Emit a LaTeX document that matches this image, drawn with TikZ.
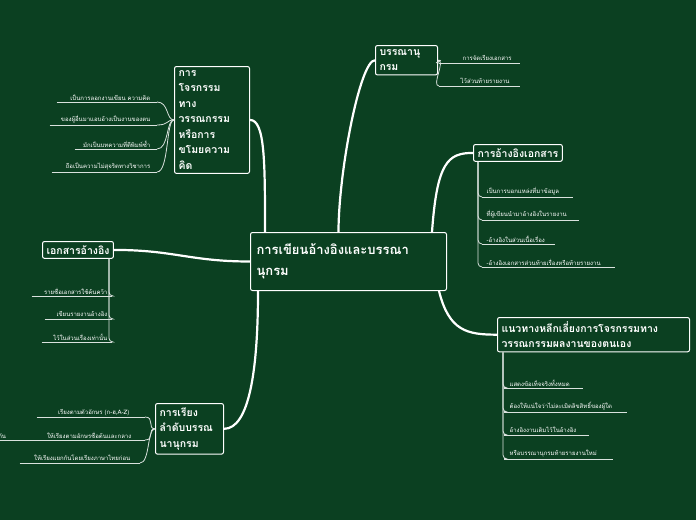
\documentclass[tikz,border=0pt]{standalone}
\usepackage{fontspec}
\setmainfont[Script=Thai]{Loma}
\definecolor{bg}{HTML}{0B4021}
\tikzset{
 mainbox/.style={draw=white,line width=1pt,rounded corners=2pt,fill=bg,text=white,font=\bfseries\fontsize{10.5}{15.5}\selectfont,align=left,inner sep=4pt,anchor=north west},
 lf/.style={text=white,font=\fontsize{6}{7}\selectfont,inner sep=1.5pt,anchor=south west,minimum height=9pt},
 lfr/.style={lf,anchor=south east},
 ul/.style={draw=white!85!bg,line width=0.8pt},
 br/.style={draw=white,line width=2.2pt},
 sb/.style={draw=white!85!bg,line width=0.8pt}
}
\begin{document}
\begin{tikzpicture}[x=1pt,y=-1pt]
\fill[bg] (0,0) rectangle (696,520);
\useasboundingbox (0,0) rectangle (696,520);
% main nodes
\node[mainbox,font=\bfseries\fontsize{13}{21}\selectfont,text width=184pt,minimum height=58pt,inner sep=6pt] (c) at (250,232) {การเขียนอ้างอิงและบรรณา\\นุกรม};
\node[mainbox,text width=54pt] (b1) at (375,45) {บรรณานุ\\กรม};
\node[mainbox] (b2) at (473,144) {การอ้างอิงเอกสาร};
\node[mainbox,text width=184pt] (b3) at (497,317) {แนวทางหลีกเลี่ยงการโจรกรรมทาง\\วรรณกรรมผลงานของตนเอง};
\node[mainbox,text width=67pt] (b4) at (174,66) {การ\\โจรกรรม\\ทาง\\วรรณกรรม\\หรือการ\\ขโมยความ\\คิด};
\node[mainbox] (b5) at (42,241) {เอกสารอ้างอิง};
\node[mainbox,text width=60pt] (b6) at (155,403) {การเรียง\\ลำดับบรรณ\\นานุกรม};
% branches
\draw[br] ([xshift=-10pt]c.north) .. controls +(0,-60) and +(-15,0) .. (b1.west);
\draw[br] ([xshift=-15pt]c.north east) .. controls +(5,-70) and +(-25,0) .. (b2.west);
\draw[br] ([xshift=-8pt]c.south east) .. controls +(10,40) and +(-30,0) .. (b3.west);
\draw[br] ([xshift=15pt]c.north west) .. controls +(0,-70) and +(15,0) .. (b4.east);
\draw[br] (c.west) .. controls +(-60,0) and +(60,0) .. (b5.east);
\draw[br] ([xshift=8pt]c.south west) .. controls +(0,80) and +(25,0) .. (b6.east);
% b1 leaves
\node[lf,text width=78pt] (l11) at (439,63) {\hspace*{22pt}การจัดเรียงเอกสาร};
\node[lf,text width=78pt] (l12) at (439,86) {\hspace*{20pt}ไว้ส่วนท้ายรายงาน};
\foreach \n in {l11,l12}{\draw[ul] (\n.south west)--(\n.south east);
 \draw[sb] (b1.east) .. controls +(8,0) and +(-8,0) .. (\n.south west);}
% b2 leaves
\node[lf,text width=88pt] (l21) at (482,197) {\hspace*{3pt}เป็นการบอกแหล่งที่มาข้อมูล};
\node[lf,text width=94pt] (l22) at (482,220) {\hspace*{3pt}ที่ผู้เขียนนำมาอ้างอิงในรายงาน};
\node[lf,text width=70pt] (l23) at (482,244) {\hspace*{3pt}-อ้างอิงในส่วนเนื้อเรื่อง};
\node[lf,text width=130pt] (l24) at (482,267) {\hspace*{3pt}-อ้างอิงเอกสารส่วนท้ายเรื่องหรือท้ายรายงาน};
\foreach \n in {l21,l22,l23,l24}{\draw[ul] (\n.south west)--(\n.south east);
 \draw[sb,rounded corners=4pt] ([xshift=5pt]b2.south west) -- ([xshift=5pt]b2.south west |- \n.south west) -- (\n.south west);}
% b3 leaves
\node[lf,text width=76pt] (l31) at (504,388) {\hspace*{4pt}แสดงข้อเท็จจริงทั้งหมด};
\node[lf,text width=120pt] (l32) at (504,412) {\hspace*{4pt}ต้องให้แน่ใจว่าไม่ละเมิดลิขสิทธิ์ของผู้ใด};
\node[lf,text width=82pt] (l33) at (504,435) {\hspace*{4pt}อ้างอิงงานเดิมไว้ในอ้างอิง};
\node[lf,text width=106pt] (l34) at (504,459) {\hspace*{4pt}หรือบรรณานุกรมท้ายรายงานใหม่};
\foreach \n in {l31,l32,l33,l34}{\draw[ul] (\n.south west)--(\n.south east);
 \draw[sb,rounded corners=4pt] ([xshift=6pt]b3.south west) -- ([xshift=6pt]b3.south west |- \n.south west) -- (\n.south west);}
% b4 leaves
\node[lfr,text width=97pt,align=right] (l41) at (157,102) {เป็นการลอกงานเขียน ความคิด\hspace*{5pt}};
\node[lfr,text width=104pt,align=right] (l42) at (157,125) {ของผู้อื่นมาแอบอ้างเป็นงานของตน\hspace*{5pt}};
\node[lfr,text width=79pt,align=right] (l43) at (157,149) {มักเป็นบทความที่ตีพิมพ์ซ้ำ\hspace*{5pt}};
\node[lfr,text width=102pt,align=right] (l44) at (157,172) {ถือเป็นความไม่สุจริตทางวิชาการ\hspace*{5pt}};
\foreach \n in {l41,l42,l43,l44}{\draw[ul] (\n.south west)--(\n.south east);
 \draw[sb] (\n.south east) .. controls +(12,0) and +(-8,0) .. (b4.west);}
% b5 leaves
\node[lfr,text width=77pt,align=right] (l51) at (112,296) {รายชื่อเอกสารใช้ค้นคว้า\hspace*{3pt}};
\node[lfr,text width=64pt,align=right] (l52) at (112,319) {เขียนรายงานอ้างอิง\hspace*{3pt}};
\node[lfr,text width=67pt,align=right] (l53) at (112,342) {ไว้ในส่วนเรื่องเท่านั้น\hspace*{3pt}};
\foreach \n in {l51,l52,l53}{\draw[ul] (\n.south west)--(\n.south east);
 \draw[sb,rounded corners=4pt] (\n.south east) -- ([xshift=-5pt]b5.south east |- \n.south east) -- ([xshift=-5pt]b5.south east);}
% b6 leaves
\node[lfr,text width=105pt,align=right] (l61) at (145,417) {เรียงตามตัวอักษร (ก-ฮ,A-Z)\hspace*{14pt}};
\node[lfr,text width=148pt,align=right] (l62) at (145,440) {\hspace*{3pt}กัน\hfill ให้เรียงตามอักษรชื่อต้นและกลาง\hspace*{12pt}};
\node[lfr,text width=117pt,align=right] (l63) at (140,463) {ให้เรียงแยกกันโดยเรียงภาษาไทยก่อน\hspace*{8pt}};
\foreach \n in {l61,l62,l63}{\draw[ul] (\n.south west)--(\n.south east);
 \draw[sb] (\n.south east) .. controls +(10,0) and +(-8,0) .. (b6.west);}
\end{tikzpicture}
\end{document}
